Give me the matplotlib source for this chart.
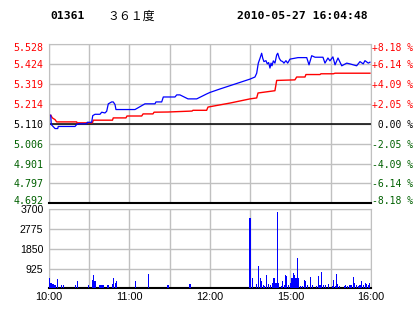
import matplotlib
matplotlib.use('Agg')
import matplotlib.pyplot as plt
import matplotlib.transforms as mtransforms

# minutes since 10:00 (trading time, lunch break removed)
price_t = [1.3, 1.7, 4.5, 6.5, 6.9, 19.4, 20.6, 21.8, 28.1, 28.5, 31.8, 32.6, 34.3, 38.0,
           39.3, 41.7, 43.0, 44.2, 46.7, 47.9, 49.2, 49.9, 64.1, 71.5, 79.0, 79.7, 84.0,
           85.2, 93.9, 95.2, 97.6, 103.6, 110.1, 117.5, 120.0, 127.4, 138.6, 149.8, 153.5,
           154.8, 156.0, 157.3, 158.5, 159.3, 160.2, 161.7, 162.7, 163.7, 164.7, 165.5,
           166.2, 167.2, 168.4, 169.7, 170.5, 171.6, 172.7, 174.2, 175.1, 176.6, 177.9,
           179.6, 185.6, 192.1, 193.8, 195.8, 198.3, 204.2, 205.7, 207.9, 209.4, 211.6,
           213.2, 215.4, 218.2, 221.9, 224.3, 229.3, 231.8, 234.2, 235.5, 238.0, 239.2]
price = [5.155, 5.106, 5.085, 5.085, 5.096, 5.096, 5.106, 5.110, 5.110, 5.118, 5.118, 5.153,
         5.160, 5.160, 5.171, 5.167, 5.176, 5.215, 5.225, 5.225, 5.211, 5.185, 5.185, 5.215,
         5.215, 5.225, 5.225, 5.251, 5.251, 5.262, 5.262, 5.241, 5.241, 5.267, 5.275, 5.293,
         5.319, 5.345, 5.356, 5.376, 5.429, 5.455, 5.481, 5.455, 5.437, 5.442, 5.425, 5.432,
         5.403, 5.429, 5.415, 5.441, 5.429, 5.472, 5.481, 5.455, 5.442, 5.437, 5.429, 5.442,
         5.429, 5.450, 5.458, 5.458, 5.420, 5.468, 5.460, 5.460, 5.429, 5.456, 5.441, 5.462,
         5.420, 5.456, 5.415, 5.429, 5.425, 5.415, 5.437, 5.425, 5.442, 5.429, 5.434]

avg_t = [1.3, 2.5, 4.5, 5.7, 20.6, 20.9, 32.4, 33.0, 47.3, 47.9, 57.4, 58.1, 69.1, 70.1,
         77.5, 78.3, 88.7, 106.6, 107.3, 117.5, 118.5, 134.9, 149.8, 154.8, 155.8, 168.4,
         169.7, 183.3, 184.6, 190.8, 191.5, 202.0, 202.7, 211.9, 213.2, 239.2]
avg = [5.155, 5.141, 5.132, 5.120, 5.120, 5.115, 5.115, 5.129, 5.129, 5.141, 5.141, 5.151,
       5.151, 5.162, 5.162, 5.171, 5.172, 5.177, 5.181, 5.181, 5.198, 5.219, 5.241, 5.246,
       5.272, 5.284, 5.338, 5.341, 5.356, 5.356, 5.369, 5.369, 5.373, 5.373, 5.376, 5.376]

vol_t = [0.7, 1.5, 2.2, 3.0, 3.7, 5.0, 6.3, 9.2, 10.7, 19.6, 21.1, 29.3, 32.6, 33.3, 34.3,
         35.0, 37.5, 38.5, 39.5, 40.8, 43.5, 44.2, 47.5, 48.2, 49.4, 50.2, 64.3, 74.0, 88.7,
         105.1,
         149.8, 151.5, 154.8, 156.0, 157.5, 158.5, 159.7, 160.8, 162.0, 163.4, 165.2, 166.7,
         167.7, 169.2, 170.2, 171.2, 173.1, 174.2, 175.4, 176.4, 177.2, 178.7, 179.8, 181.1,
         182.1, 183.1, 184.1, 185.1, 186.1, 187.6, 188.6, 190.3, 191.5, 193.0, 194.7, 196.2,
         199.5, 200.7, 202.0, 202.9, 204.4, 206.4, 208.2, 211.4, 212.2, 213.2, 214.1, 215.2,
         216.4, 220.1, 221.1, 222.6, 223.8, 225.1, 226.8, 227.8, 229.3, 230.8, 231.8, 232.8,
         234.3, 235.7, 236.8, 238.0, 239.0]
vol = [490, 260, 215, 190, 155, 155, 450, 155, 140, 140, 320, 155, 390, 625, 360,
       155, 140, 155, 155, 155, 140, 140, 215, 485, 260, 330, 330, 670, 150,
       180,
       3290, 470, 190, 1050, 470, 340, 155, 120, 625, 200, 155, 225,
       485, 225, 3570, 250, 120, 345, 155, 625, 560, 155, 250, 470,
       730, 625, 470, 1420, 470, 120, 120, 390, 340, 155, 530, 155,
       120, 560, 155, 770, 155, 170, 190, 120, 390, 120, 670, 200,
       120, 120, 170, 120, 155, 155, 530, 250, 155, 120, 155, 345,
       155, 250, 200, 155, 250]

prev_close = 5.110
price_ticks = [4.692, 4.797, 4.901, 5.006, 5.110, 5.214, 5.319, 5.424, 5.528]
pct_labels = ['-8.18 %', '-6.14 %', '-4.09 %', '-2.05 %', ' 0.00 %',
              '+2.05 %', '+4.09 %', '+6.14 %', '+8.18 %']
vol_ticks = [925, 1850, 2775, 3700]
time_ticks = [0, 60, 120, 180, 240]
time_labels = ['10:00', '11:00', '12:00', '15:00', '16:00']

RED = '#ff0000'
GREEN = '#006000'
GRID = '#c0c0c0'

def tick_color(v):
    if v > prev_close + 1e-6:
        return RED
    if v < prev_close - 1e-6:
        return GREEN
    return 'black'

def nudge(label, dy_px):
    label.set_transform(label.get_transform() +
                        mtransforms.ScaledTranslation(0, dy_px / 100, fig.dpi_scale_trans))

fig = plt.figure(figsize=(4.14, 3.14), dpi=100)
fig.patch.set_facecolor('white')

ax = fig.add_axes([49/414, 1 - 203.3/314, 322/414, 159/314])
ax.set_xlim(0, 240)
ax.set_ylim(price_ticks[0], price_ticks[-1])
ax.set_yticks(price_ticks)
ax.set_xticks(range(0, 241, 30))
ax.set_xticklabels([])
ax.grid(True, color=GRID, lw=1.0)
ax.set_axisbelow(True)
ax.tick_params(length=0)
ax.set_yticklabels(['%.3f' % v for v in price_ticks], family='DejaVu Sans Mono', fontsize=7.2)
for lab, v in zip(ax.get_yticklabels(), price_ticks):
    lab.set_color(tick_color(v))
ax.tick_params(axis='y', pad=4)
for s in ['top', 'left', 'right']:
    ax.spines[s].set_color(GRID)
ax.spines['bottom'].set_color('black')
ax.spines['bottom'].set_linewidth(1.5)
ax.axhline(prev_close, color='black', lw=1.1, zorder=2)
ax.plot(avg_t, avg, color=RED, lw=1.0, zorder=3)
ax.plot(price_t, price, color='#0000ff', lw=0.9, zorder=4)

ax2 = ax.twinx()
ax2.set_ylim(ax.get_ylim())
ax2.set_yticks(price_ticks)
ax2.set_yticklabels(pct_labels, family='DejaVu Sans Mono', fontsize=7.0)
for lab, v in zip(ax2.get_yticklabels(), price_ticks):
    lab.set_color(tick_color(v))
ax2.tick_params(length=0, pad=0.5)
for s in ax2.spines.values():
    s.set_visible(False)

# keep the end labels inside the panel like the original
for a in (ax, ax2):
    labs = a.get_yticklabels()
    nudge(labs[0], 3.5)
    nudge(labs[-1], -2.5)

vx = fig.add_axes([49/414, 1 - 288.3/314, 322/414, 79/314])
vx.bar(vol_t, vol, width=0.8, color='#0000ff', zorder=3)
vx.set_xlim(0, 240)
vx.set_ylim(0, 3700)
vx.set_yticks(vol_ticks)
vx.set_yticklabels([str(v) for v in vol_ticks], family='Liberation Sans', fontsize=7.6)
for lab in vx.get_yticklabels():
    nudge(lab, -2.5)
nudge(vx.get_yticklabels()[-1], -1.5)
vx.set_xticks(range(0, 241, 30), minor=True)
vx.set_xticks(time_ticks)
vx.set_xticklabels(time_labels, family='Liberation Sans', fontsize=7.8)
vx.grid(True, which='both', color=GRID, lw=1.0)
vx.set_axisbelow(True)
vx.tick_params(which='both', length=0)
vx.tick_params(axis='y', pad=4)
vx.tick_params(axis='x', pad=3)
for s in ['top', 'left', 'right']:
    vx.spines[s].set_color(GRID)
vx.spines['bottom'].set_color('black')
vx.spines['bottom'].set_linewidth(1.5)

fig.text(50/414, 1 - 16/314, '01361', family='DejaVu Sans Mono', weight='bold',
         fontsize=8.2, va='center')
fig.text(107/414, 1 - 16/314, '３６１度', family=['Noto Sans CJK SC', 'DejaVu Sans'],
         fontsize=8.6, va='center')
fig.text(237/414, 1 - 16/314, '2010-05-27 16:04:48', family='DejaVu Sans Mono',
         weight='bold', fontsize=8.2, va='center')

fig.savefig('out.png', dpi=100)
